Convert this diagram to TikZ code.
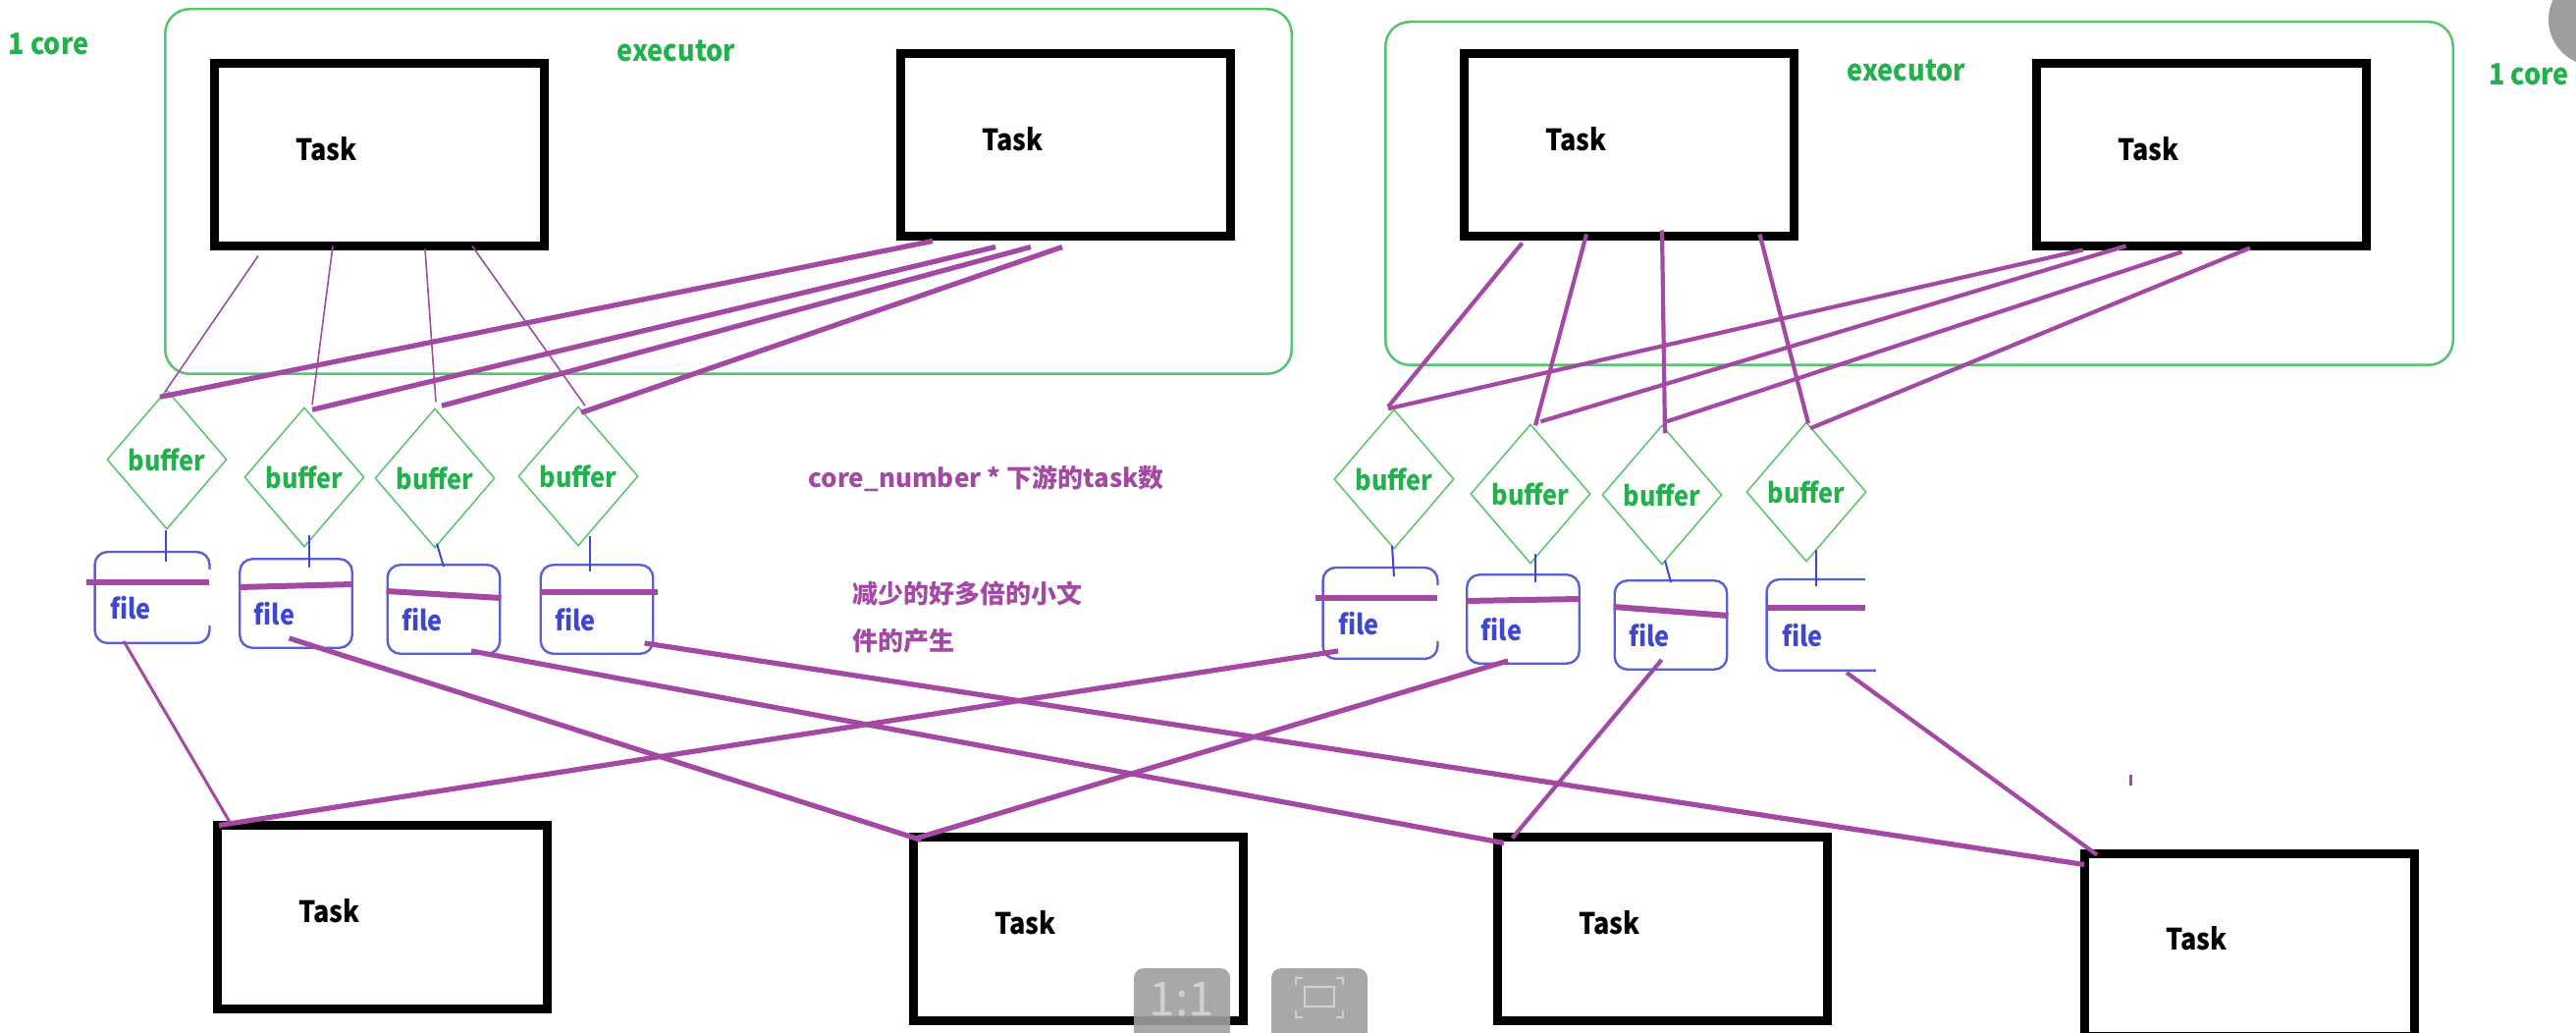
\documentclass[tikz,border=0pt]{standalone}
\usepackage{fontspec}
\setmainfont{Noto Sans CJK SC}
\newfontfamily\narrowfont{Noto Sans CJK SC}[FakeStretch=0.9]
\usetikzlibrary{shapes.geometric,calc}
\definecolor{ppl}{HTML}{A349A4}
\definecolor{grn}{HTML}{22B14C}
\definecolor{grnline}{HTML}{56C46A}
\definecolor{blu}{HTML}{3F48CC}
\definecolor{bluline}{HTML}{5860D4}
\definecolor{uigray}{HTML}{9E9E9E}
\definecolor{uitext}{HTML}{D0D0D0}
\tikzset{
  taskbox/.style={draw=black, line width=4.5pt, minimum width=168pt, minimum height=93pt, inner sep=0pt},
  tasktext/.style={text=black, font=\narrowfont\bfseries\fontsize{15}{18}\selectfont},
  execbox/.style={draw=grnline, line width=1.25pt, rounded corners=12.5pt, inner sep=0pt},
  greentext/.style={text=grn, font=\narrowfont\bfseries\fontsize{15}{18}\selectfont},
  bufbox/.style={diamond, draw=grnline, line width=0.75pt, minimum width=61pt, minimum height=71pt, inner sep=0pt, text=grn, font=\narrowfont\bfseries\fontsize{14}{16}\selectfont},
  filebox/.style={rectangle, rounded corners=6.5pt, line width=1.2pt, minimum width=57.25pt, minimum height=45.25pt, inner sep=0pt},
  filedraw/.style={draw=bluline},
  openfile/.style={draw=bluline, line width=1.2pt, rounded corners=6.5pt},
  filetext/.style={text=blu, font=\narrowfont\bfseries\fontsize{14}{16}\selectfont},
  thinlink/.style={draw=ppl, line width=0.8pt},
  thicklink/.style={draw=ppl, line width=2.6pt},
  midlink/.style={draw=ppl, line width=2.1pt},
  slimlink/.style={draw=ppl, line width=1.5pt},
  bar/.style={draw=ppl, line width=3pt},
  bluelink/.style={draw=blu, line width=1pt},
  note/.style={text=ppl, font=\bfseries\fontsize{13}{16}\selectfont, anchor=west, inner sep=0pt},
  uibtn/.style={fill=uigray, fill opacity=0.9, rounded corners=5pt}
}
\begin{document}
\begin{tikzpicture}[x=0.5pt,y=-0.5pt]
\useasboundingbox (0,0) rectangle (2624,1052);
\clip (0,0) rectangle (2624,1052);

% executors
\node[execbox, minimum width=573.75pt, minimum height=185.75pt] (E1) at (742,195) {};
\node[execbox, minimum width=543.75pt, minimum height=174.75pt] (E2) at (1955,197) {};
\node[greentext] (E1lab) at (689,52) {executor};
\node[greentext] (E2lab) at (1942,72) {executor};
\node[greentext] (C1) at (49.5,45) {1 core};
\node[greentext] (C2) at (2576,76) {1 core};

% tasks
\node[taskbox, label={[tasktext,xshift=-27pt,yshift=3pt]center:Task}] (T1) at (386.5,158) {};
\node[taskbox, label={[tasktext,xshift=-27pt,yshift=3pt]center:Task}] (T2) at (1085.5,148) {};
\node[taskbox, label={[tasktext,xshift=-27pt,yshift=3pt]center:Task}] (T3) at (1659.5,148) {};
\node[taskbox, label={[tasktext,xshift=-27pt,yshift=3pt]center:Task}] (T4) at (2242.5,158) {};
\node[taskbox, label={[tasktext,xshift=-27pt,yshift=3pt]center:Task}] (B1) at (389.5,934) {};
\node[taskbox, label={[tasktext,xshift=-27pt,yshift=3pt]center:Task}] (B2) at (1098.5,946) {};
\node[taskbox, label={[tasktext,xshift=-27pt,yshift=3pt]center:Task}] (B3) at (1693.5,946) {};
\node[taskbox, label={[tasktext,xshift=-27pt,yshift=3pt]center:Task}] (B4) at (2291.5,962) {};

% buffers
\node[bufbox] (D1) at (170,468) {buffer};
\node[bufbox] (D2) at (310,486) {buffer};
\node[bufbox] (D3) at (443,487) {buffer};
\node[bufbox] (D4) at (589,485) {buffer};
\node[bufbox] (D5) at (1420,488) {buffer};
\node[bufbox] (D6) at (1559,503) {buffer};
\node[bufbox] (D7) at (1693,504) {buffer};
\node[bufbox] (D8) at (1840,501) {buffer};

% files
\node[filebox, label={[filetext,xshift=-11pt,yshift=-5.5pt]center:file}] (F1) at (155,608.5) {};
\node[filebox, filedraw, label={[filetext,xshift=-11pt,yshift=-5.5pt]center:file}] (F2) at (301.5,614.5) {};
\node[filebox, filedraw, label={[filetext,xshift=-11pt,yshift=-5.5pt]center:file}] (F3) at (452,620.5) {};
\node[filebox, filedraw, label={[filetext,xshift=-11pt,yshift=-5.5pt]center:file}] (F4) at (608,620.5) {};
\node[filebox, label={[filetext,xshift=-11pt,yshift=-5.5pt]center:file}] (F5) at (1406,624.5) {};
\node[filebox, filedraw, label={[filetext,xshift=-11pt,yshift=-5.5pt]center:file}] (F6) at (1551.5,630.5) {};
\node[filebox, filedraw, label={[filetext,xshift=-11pt,yshift=-5.5pt]center:file}] (F7) at (1702,636.5) {};
\node[filebox, label={[filetext,xshift=-11pt,yshift=-5.5pt]center:file}] (F8) at (1858,636.5) {};
% open outlines
\draw[openfile] ($(F1.north east)+(0,18)$) -- (F1.north east) -- (F1.north west) -- (F1.south west) -- (F1.south east) -- ($(F1.south east)+(0,-18)$);
\draw[openfile] ($(F5.north east)+(0,18)$) -- (F5.north east) -- (F5.north west) -- (F5.south west) -- (F5.south east) -- ($(F5.south east)+(0,-18)$);
\draw[openfile] ($(F8.north east)+(-16.5,0)$) -- (F8.north west) -- (F8.south west) -- ($(F8.south east)+(-5.5,0)$);

% bars in files
\draw[bar] ($(F1.west)+(-9,-15.5)$) -- ($(F1.east)+(0,-15.5)$);
\draw[bar] ($(F2.west)+(0,-16.5)$) -- ($(F2.east)+(0,-19.5)$);
\draw[bar] ($(F3.west)+(0,-18.5)$) -- ($(F3.east)+(0,-11.5)$);
\draw[bar] ($(F4.west)+(0,-17.5)$) -- ($(F4.east)+(4,-17.5)$);
\draw[bar] ($(F5.west)+(-8,-15.5)$) -- ($(F5.east)+(0,-15.5)$);
\draw[bar] ($(F6.west)+(0,-18.5)$) -- ($(F6.east)+(0,-20.5)$);
\draw[bar] ($(F7.west)+(0,-18.5)$) -- ($(F7.east)+(0,-9.5)$);
\draw[bar] ($(F8.west)+(0,-17.5)$) -- ($(F8.east)+(-16.5,-17.5)$);

% notes
\node[note] (N1) at (823,487) {core\_number * 下游的task数};
\node[note] (N2) at (868,604) {减少的好多倍的小文};
\node[note] (N3) at (868,653) {件的产生};

% T1 -> buffers (thin)
\draw[thinlink] ($(T1.south)+(-123.5,5)$) -- ($(D1.north)+(-2,3)$);
\draw[thinlink] ($(T1.south)+(-47.5,-5)$) -- ($(D2.north)+(8,-2)$);
\draw[thinlink] ($(T1.south)+(46.5,-2)$) -- ($(D3.north)+(1,-6)$);
\draw[thinlink] ($(T1.south)+(94.5,-5)$) -- ($(D4.north)+(7,0)$);
% T2 -> buffers
\draw[thicklink] ($(T2.south)+(-135.5,0)$) -- ($(D1.north)+(-7,8)$);
\draw[thicklink] ($(T2.south)+(-71.5,6)$) -- ($(D2.north)+(8,3)$);
\draw[thicklink] ($(T2.south)+(-35.5,6)$) -- ($(D3.north)+(7,-2)$);
\draw[thicklink] ($(T2.south)+(-3.5,6)$) -- ($(D4.north)+(3,7)$);
% T3 -> buffers
\draw[midlink] ($(T3.south)+(-109,2)$) -- ($(D5.north)+(-6,-2)$);
\draw[midlink] ($(T3.south)+(-43.5,-7)$) -- ($(D6.north)+(5,2)$);
\draw[midlink] ($(T3.south)+(33.5,-11)$) -- ($(D7.north)+(3,9)$);
\draw[midlink] ($(T3.south)+(133,-7)$) -- ($(D8.north)+(2,2)$);
% T4 -> buffers
\draw[midlink] ($(T4.south)+(-120.7,-1)$) -- ($(D5.north)+(-6,0)$);
\draw[midlink] ($(T4.south)+(-77,-5)$) -- ($(D6.north)+(10.5,-2)$);
\draw[midlink] ($(T4.south)+(-20,1)$) -- ($(D7.north)+(5,-3)$);
\draw[midlink] ($(T4.south)+(49.5,-3)$) -- ($(D8.north)+(4,7)$);

% buffer -> file
\draw[bluelink] ($(D1.south)+(-1.5,0)$) -- ($(F1.north)+(13.5,10)$);
\draw[bluelink] ($(D2.south)+(4.5,-13)$) -- ($(F2.north)+(13,10)$);
\draw[bluelink] ($(D3.south)+(2,-5)$) -- ($(F3.north)+(0,3)$);
\draw[bluelink] ($(D4.south)+(11.5,-11)$) -- ($(F4.north)+(-7.5,8)$);
\draw[bluelink] ($(D5.south)+(-2,-4)$) -- ($(F5.north)+(14,9)$);
\draw[bluelink] ($(D6.south)+(5,-11)$) -- ($(F6.north)+(12.5,9)$);
\draw[bluelink] ($(D7.south)+(3,-5)$) -- ($(F7.north)+(0,3)$);
\draw[bluelink] ($(D8.south)+(10,-13)$) -- ($(F8.north)+(-8,7)$);

% file -> downstream tasks
\draw[slimlink] ($(F1.south)+(-29,-2)$) -- ($(B1.north)+(-153.5,4)$);
\draw[thicklink] ($(F2.south)+(-7,-11)$) -- ($(B2.north)+(-160,7)$);
\draw[thicklink] ($(F3.south)+(28,-4)$) -- ($(B3.north)+(-161.5,10)$);
\draw[thicklink] ($(F4.south)+(48.6,-12)$) -- ($(B4.north)+(-168.5,16)$);
\draw[thicklink] ($(B1.north)+(-166.5,4)$) -- ($(F5.south)+(-43,-8)$);
\draw[thicklink] ($(B2.north)+(-164.5,5)$) -- ($(F6.south)+(-15.5,-4)$);
\draw[midlink] ($(F7.south)+(-9.4,-11)$) -- ($(B3.north)+(-153,5)$);
\draw[midlink] ($(F8.south)+(23,2)$) -- ($(B4.north)+(-155.5,6)$);

% stray mark
\draw[slimlink] (2170,789) -- (2170,800);

% viewer overlay elements
\fill[uigray] (2643,20) circle[radius=47];
\fill[uibtn] (1155,986) rectangle (1253,1060);
\node[text=uitext, font=\fontsize{24}{26}\selectfont] (btn1) at (1204,1018) {1:1};
\fill[uibtn] (1295,986) rectangle (1393,1060);
\draw[draw=uitext, line width=1.2pt] (1329,1005) rectangle (1359,1025);
\draw[draw=uitext, line width=1pt] (1320,1003) -- (1320,996) -- (1327,996);
\draw[draw=uitext, line width=1pt] (1361,996) -- (1368,996) -- (1368,1003);
\draw[draw=uitext, line width=1pt] (1320,1029) -- (1320,1036) -- (1327,1036);
\draw[draw=uitext, line width=1pt] (1361,1036) -- (1368,1036) -- (1368,1029);
\end{tikzpicture}
\end{document}
